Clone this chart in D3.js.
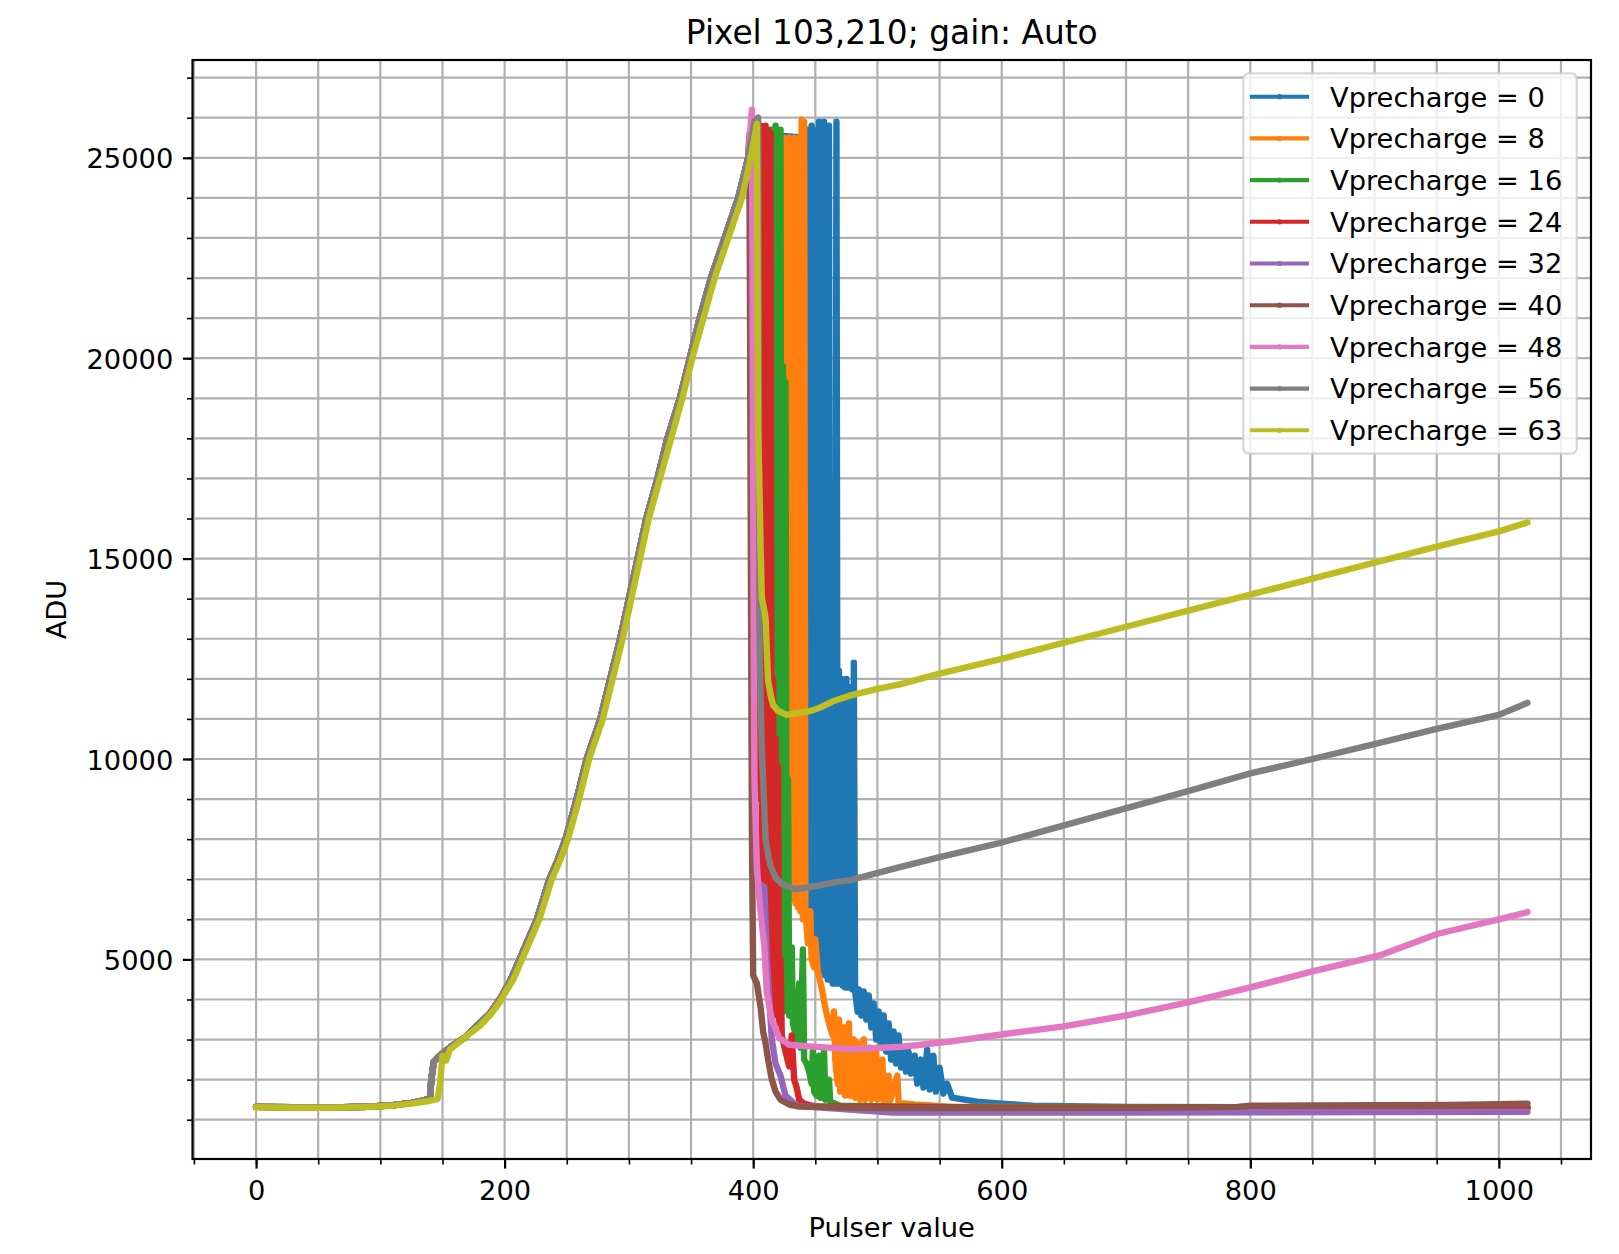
<!DOCTYPE html>
<html>
<head>
<meta charset="utf-8">
<script src="https://d3js.org/d3.v7.min.js"></script>
<style>
    html, body { margin: 0; padding: 0; background: #fff; }
    svg text { font-family: "DejaVu Sans", sans-serif; fill: #000; }
</style>
</head>
<body>
<svg id="chart" width="1619" height="1254"></svg>
<script>
// series labels and colours (matplotlib tab10)
var vprecharge = [0, 8, 16, 24, 32, 40, 48, 56, 63];
var colors = ['#1f77b4', '#ff7f0e', '#2ca02c', '#d62728', '#9467bd', '#8c564b', '#e377c2', '#7f7f7f', '#bcbd22'];

// tick labels
var xMajorTicks = [0, 200, 400, 600, 800, 1000];
var yMajorTicks = [5000, 10000, 15000, 20000, 25000];

// rising part shared by Vprecharge 0..56 (pulser, ADU)
var rampCommon = [[0,1320],[30,1310],[60,1305],[90,1325],[110,1360],[125,1420],[135,1480],[140,1560],[141,2000],[143,2450],
    [146,2550],[150,2650],[158,2850],[168,3050],[178,3350],[188,3650],[197,4050],[205,4500],[212,5000],[219,5500],
    [226,6000],[236,7000],[243,7500],[249,8000],[258,9000],[266,10000],[277,11000],[285,12000],[293,13000],[300,14000],
    [307,15000],[314,16000],[323,17000],[331,18000],[341,19000],[349,20000],[357,21000],[366,22000],[377,23000],
    [388,24000],[396,25000],[401,25900]];

// rising part of Vprecharge 63 (jumps a little later)
var rampV63 = [[0,1310],[30,1300],[60,1300],[90,1320],[110,1350],[125,1400],[138,1460],[146,1520],[148,1900],[150,2600],
    [153,2480],[156,2750],[164,2950],[172,3150],[180,3340],[188,3600],[195,3880],[201,4200],[207,4500],[214,5000],
    [221,5500],[228,6000],[238,7000],[245,7500],[251,8000],[260,9000],[268,10000],[279,11000],[287,12000],[295,13000],
    [302,14000],[309,15000],[316,16000],[325,17000],[334,18000],[343,19000],[351,20000],[360,21000],[369,22000],
    [380,23000],[391,24000],[398,25000],[403,25850]];

// what each series does after saturation
var tailV0 = [[402,25600],[441,25500],[442,6000],[443,25700],[444,5800],[445,25600],[446,5600],[447,25800],[448,5400],[449,25500],
    [450,5200],[451,25700],[452,5000],[453,25900],[454,4800],[455,14500],[456,4700],[457,25900],[458,4600],[459,14000],
    [460,4500],[461,25800],[462,4500],[463,13500],[464,4400],[465,13200],[466,4400],[467,25900],[468,4400],[469,12200],
    [470,4400],[471,12000],[472,4350],[473,11900],[474,4300],[475,12000],[476,4300],[477,11700],[478,4300],[479,11800],
    [480,4250],[481,12400],[482,4200],[484,3700],[485,4250],[487,3600],[489,4200],[491,3500],[493,4100],[495,3300],
    [497,3900],[499,3000],[501,3700],[503,2900],[505,3600],[507,2700],[509,3400],[511,2500],[513,3200],[515,2400],
    [517,3100],[519,2300],[521,2800],[523,2200],[525,2700],[527,2150],[530,2600],[532,1900],[535,2500],[537,1800],
    [540,2750],[542,1750],[545,2600],[547,1700],[550,2300],[553,1650],[556,1900],[560,1550],[580,1450],[600,1400],
    [625,1350],[700,1320],[1023,1300]];

var tailV8 = [[402,25500],[423,25500],[424,7200],[425,25500],[426,7000],[427,25450],[428,6800],[429,25500],[430,6700],[431,25400],
    [432,6500],[433,25500],[434,6400],[435,24950],[436,6300],[437,25500],[438,6200],[439,25950],[440,6000],[441,25900],
    [442,6200],[444,5400],[446,6200],[447,5000],[449,4800],[450,5500],[452,4700],[455,4300],[458,3800],[461,3400],
    [464,3100],[465,3700],[466,2500],[468,1900],[469,3500],[470,1700],[473,3300],[474,1600],[477,3400],[478,1600],
    [481,3000],[482,1550],[485,2900],[486,1500],[489,3000],[490,1500],[494,2800],[495,1500],[499,2700],[500,1500],
    [504,2500],[505,1450],[509,2100],[510,1450],[516,2100],[517,1420],[530,1380],[560,1320],[1023,1300]];

var tailV16 = [[402,25600],[413,25500],[414,25700],[415,6500],[416,25600],[417,5500],[418,25800],[419,4500],[420,25500],[421,4000],
    [422,25700],[423,3900],[424,19800],[425,3800],[426,19400],[427,3700],[428,9500],[429,3600],[431,5300],[432,3400],
    [435,3000],[437,4400],[438,2800],[440,5250],[441,2500],[443,2400],[445,2200],[447,1900],[448,2700],[449,1700],
    [451,1600],[453,2600],[454,1550],[457,2700],[458,1500],[461,2000],[462,1450],[470,1350],[600,1300],[1023,1300]];

var tailV24 = [[402,25700],[404,25500],[405,9000],[406,25800],[407,7000],[408,25700],[409,5500],[410,25800],[411,4500],[412,25700],
    [413,4000],[414,25600],[415,3800],[416,12000],[417,3700],[418,10500],[419,3600],[420,9800],[421,3400],[422,5000],
    [423,3100],[426,2700],[429,2330],[431,3100],[433,2000],[435,1800],[437,1500],[441,1400],[450,1330],[600,1300],
    [1023,1300]];

var tailV32 = [[397,25600],[398,20000],[400,9000],[404,6900],[409,6800],[411,5000],[415,3000],[418,2400],[422,2100],
    [426,1600],[435,1350],[480,1250],[512,1180],[700,1180],[900,1190],[1023,1200]];

var tailV40 = [[397,25500],[398,16000],[399,8000],[400,4600],[403,4400],[406,3800],[408,3200],[410,2900],[412,2500],
    [415,2000],[418,1700],[422,1500],[429,1380],[437,1330],[500,1290],[600,1290],[700,1300],[790,1320],[800,1350],
    [900,1360],[960,1370],[1000,1390],[1023,1400]];

var tailV48 = [[399,26200],[400,16200],[401,9500],[403,7250],[406,6170],[409,5330],[411,4170],[415,3500],[421,3040],
    [429,2870],[445,2830],[478,2760],[520,2820],[558,2950],[598,3120],[650,3330],[700,3600],[750,3930],[800,4300],
    [850,4700],[904,5100],[951,5640],[1000,6000],[1023,6180]];

var tailV56 = [[404,26000],[405,13400],[406,11500],[407,10200],[408,9500],[410,8000],[412,7600],[414,7330],[418,7050],
    [423,6880],[434,6750],[450,6830],[465,6920],[478,6980],[518,7300],[550,7550],[598,7900],[680,8600],[750,9200],
    [800,9640],[850,10000],[904,10400],[950,10750],[1000,11100],[1023,11400]];

var tailV63 = [[404,18100],[405,16800],[406,15200],[407,14000],[409,13700],[410,13500],[411,12700],[412,11950],
    [414,11600],[416,11350],[420,11200],[427,11100],[436,11150],[446,11200],[455,11300],[464,11440],[480,11600],
    [500,11750],[518,11860],[550,12130],[600,12500],[650,12900],[700,13300],[750,13700],[800,14100],[850,14500],
    [904,14930],[950,15300],[1000,15680],[1023,15900]];

var tails = [tailV0, tailV8, tailV16, tailV24, tailV32, tailV40, tailV48, tailV56, tailV63];

// plot area (pixels)
var plot = {left: 192.5, right: 1591, top: 60, bottom: 1159};
var fontSize = 27.3;

function buildSeries(){
    var series = [];
    for(var i = 0, imax = tails.length; i < imax; i++){
        var ramp = (vprecharge[i] == 63) ? rampV63 : rampCommon;
        var start = tails[i][0][0];
        // ramp up to where the series saturates, then its own tail
        var pts = ramp.filter(function(p){ return p[0] < start; }).concat(tails[i]);
        series.push({label: 'Vprecharge = ' + vprecharge[i], color: colors[i], points: pts});
    }
    return series;
}

function drawChart(){
    var svg = d3.select('#chart');
    svg.append('rect').attr('width', 1619).attr('height', 1254).attr('fill', '#fff');

    var x = d3.scaleLinear().domain([-51.15, 1074.15]).range([plot.left, plot.right]);
    var y = d3.scaleLinear().domain([20, 27440]).range([plot.bottom, plot.top]);

    var xMinor = d3.range(-50, 1075, 50);
    var yMinor = d3.range(1000, 27441, 1000);

    // grid (major + minor share the same style)
    var grid = svg.append('g');
    grid.selectAll('line.gx').data(xMinor).enter().append('line')
        .attr('x1', function(d){ return x(d); }).attr('x2', function(d){ return x(d); })
        .attr('y1', plot.top).attr('y2', plot.bottom)
        .attr('stroke', '#b0b0b0').attr('stroke-width', 2.2);
    grid.selectAll('line.gy').data(yMinor).enter().append('line')
        .attr('y1', function(d){ return y(d); }).attr('y2', function(d){ return y(d); })
        .attr('x1', plot.left).attr('x2', plot.right)
        .attr('stroke', '#b0b0b0').attr('stroke-width', 2.2);

    // clip to axes
    svg.append('clipPath').attr('id', 'clip').append('rect')
        .attr('x', plot.left).attr('y', plot.top)
        .attr('width', plot.right - plot.left).attr('height', plot.bottom - plot.top);

    var line = d3.line()
        .x(function(d){ return x(d[0]); })
        .y(function(d){ return y(d[1]); });

    var series = buildSeries();

    svg.append('g').attr('clip-path', 'url(#clip)')
        .selectAll('path').data(series).enter().append('path')
            .attr('d', function(d){ return line(d.points); })
            .attr('fill', 'none')
            .attr('stroke', function(d){ return d.color; })
            .attr('stroke-width', 6.4)
            .attr('stroke-linejoin', 'round')
            .attr('stroke-linecap', 'round');

    // minor ticks
    var xMinorAxis = svg.append('g').attr('transform', 'translate(0,' + plot.bottom + ')')
        .call(d3.axisBottom(x).tickValues(xMinor).tickSize(5.5).tickSizeOuter(0).tickFormat(''));
    var yMinorAxis = svg.append('g').attr('transform', 'translate(' + plot.left + ',0)')
        .call(d3.axisLeft(y).tickValues(yMinor).tickSize(5.5).tickSizeOuter(0).tickFormat(''));
    [xMinorAxis, yMinorAxis].forEach(function(g){
        g.select('.domain').remove();
        g.selectAll('line').attr('stroke', '#000').attr('stroke-width', 1.6);
    });

    // major ticks + labels
    var xAxis = svg.append('g').attr('transform', 'translate(0,' + plot.bottom + ')')
        .call(d3.axisBottom(x).tickValues(xMajorTicks).tickSize(9.6).tickPadding(12).tickSizeOuter(0).tickFormat(d3.format('d')));
    var yAxis = svg.append('g').attr('transform', 'translate(' + plot.left + ',0)')
        .call(d3.axisLeft(y).tickValues(yMajorTicks).tickSize(9.6).tickPadding(9.6).tickSizeOuter(0).tickFormat(d3.format('d')));
    [xAxis, yAxis].forEach(function(g){
        g.select('.domain').remove();
        g.attr('font-family', null).attr('font-size', null);
        g.selectAll('line').attr('stroke', '#000').attr('stroke-width', 2.2);
        g.selectAll('text').attr('fill', '#000').style('font-size', fontSize + 'px');
    });
    yAxis.selectAll('text').attr('dy', '0.37em');

    // spines
    svg.append('rect')
        .attr('x', plot.left).attr('y', plot.top)
        .attr('width', plot.right - plot.left).attr('height', plot.bottom - plot.top)
        .attr('fill', 'none').attr('stroke', '#000').attr('stroke-width', 2.2);

    var midX = (plot.left + plot.right) / 2;
    var midY = (plot.top + plot.bottom) / 2;

    svg.append('text').attr('x', midX).attr('y', 43.6)
        .attr('text-anchor', 'middle').style('font-size', '32.8px')
        .text('Pixel 103,210; gain: Auto');

    svg.append('text').attr('x', midX).attr('y', 1237)
        .attr('text-anchor', 'middle').style('font-size', fontSize + 'px')
        .text('Pulser value');

    svg.append('text')
        .attr('transform', 'translate(66,' + midY + ') rotate(-90)')
        .attr('text-anchor', 'middle').style('font-size', fontSize + 'px')
        .text('ADU');

    drawLegend(svg, series);
}

function drawLegend(svg, series){
    var box = {x: 1243.3, y: 73.3, w: 333.4, h: 380.4};
    var rowStart = 96.7, rowGap = 41.7;

    var legend = svg.append('g');
    legend.append('rect')
        .attr('x', box.x).attr('y', box.y).attr('width', box.w).attr('height', box.h)
        .attr('rx', 5.5).attr('ry', 5.5)
        .attr('fill', '#fff').attr('fill-opacity', 0.8)
        .attr('stroke', '#cccccc').attr('stroke-opacity', 0.8).attr('stroke-width', 2.2);

    var rows = legend.selectAll('g.row').data(series).enter().append('g')
        .attr('transform', function(d, i){ return 'translate(0,' + (rowStart + i * rowGap) + ')'; });

    rows.append('line')
        .attr('x1', 1252).attr('x2', 1307).attr('y1', 0).attr('y2', 0)
        .attr('stroke', function(d){ return d.color; })
        .attr('stroke-width', 4.1).attr('stroke-linecap', 'square');
    rows.append('circle')
        .attr('cx', 1279.5).attr('cy', 0).attr('r', 2.6)
        .attr('fill', function(d){ return d.color; });
    rows.append('text')
        .attr('x', 1330).attr('y', 9.8)
        .style('font-size', fontSize + 'px')
        .text(function(d){ return d.label; });
}

drawChart();
</script>
</body>
</html>
